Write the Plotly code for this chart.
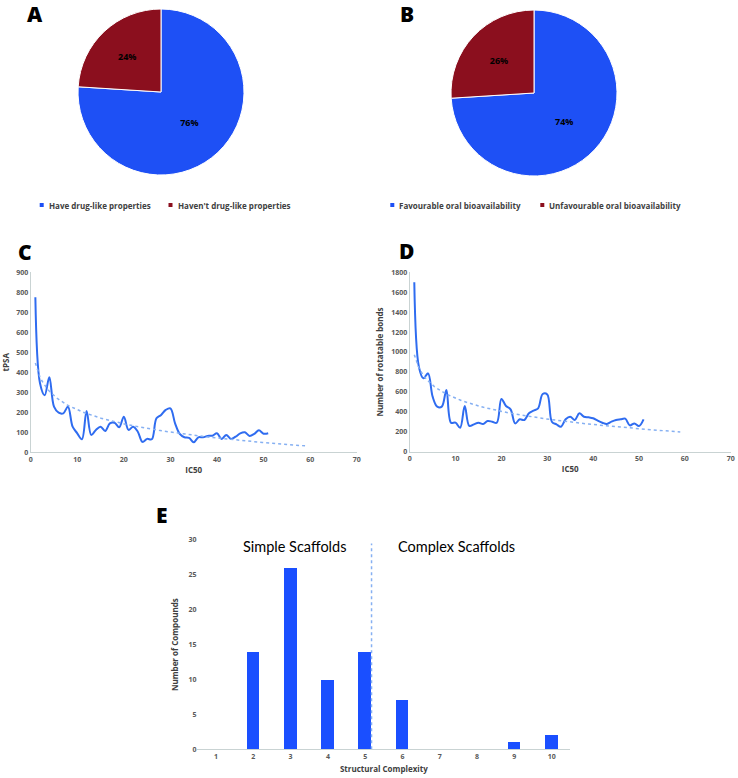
import numpy as np
import plotly.graph_objects as go

W, H = 738, 778

# ---------------- data ----------------
pie_a_labels = ["Have drug-like properties", "Haven't drug-like properties"]
pie_a_values = [76, 24]
pie_b_labels = ["Favourable oral bioavailability", "Unfavourable oral bioavailability"]
pie_b_values = [74, 26]

ic50 = list(range(1, 52))
tpsa = [775, 345, 285, 375, 228, 198, 195, 228, 128, 95,
        65, 207, 87, 112, 128, 107, 145, 148, 125, 178,
        112, 128, 103, 52, 67, 65, 170, 187, 212, 220,
        145, 92, 75, 72, 50, 75, 75, 82, 83, 95,
        67, 87, 67, 78, 95, 100, 82, 92, 110, 93, 95]
rot_bonds = [1700, 853, 736, 786, 552, 452, 452, 619, 291, 291,
             241, 458, 258, 274, 291, 278, 308, 301, 291, 530,
             458, 425, 284, 325, 318, 385, 411, 435, 579, 575,
             301, 274, 251, 325, 351, 318, 385, 351, 345, 335,
             311, 291, 278, 301, 318, 325, 331, 264, 284, 258, 325]
trend_x_end = 59

complexity = [1, 2, 3, 4, 5, 6, 7, 8, 9, 10]
n_compounds = [0, 14, 26, 10, 14, 7, 0, 0, 1, 2]
region_labels = ["Simple Scaffolds", "Complex Scaffolds"]

# ---------------- styling ----------------
BLUE = "#1E50F5"
RED = "#8B0F1E"
LINE = "#2F6CF0"
TREND = "#86B0F2"
AXIS = "#C9D3D3"
TICK = "#595959"
FONT = "Open Sans"


def px(x):
    return x / W


def py(y):
    return 1 - y / H


def log_trend(x, y, x_end):
    lx = np.log(np.asarray(x, float))
    a, b = np.polyfit(lx, np.asarray(y, float), 1)
    xs = np.linspace(1, x_end, 120)
    return xs, a * np.log(xs) + b


fig = go.Figure()

pie_text = dict(size=9, color="black", family=FONT, weight="bold")

# Pies
fig.add_trace(go.Pie(labels=pie_a_labels, values=pie_a_values, sort=False,
                     direction="clockwise", rotation=0,
                     marker=dict(colors=[BLUE, RED], line=dict(color="white", width=1)),
                     texttemplate="%{percent:.0%}", textposition="inside",
                     insidetextorientation="horizontal", textfont=pie_text,
                     domain=dict(x=[px(78), px(244)], y=[py(175), py(9)]),
                     showlegend=False))
fig.add_trace(go.Pie(labels=pie_b_labels, values=pie_b_values, sort=False,
                     direction="clockwise", rotation=0,
                     marker=dict(colors=[BLUE, RED], line=dict(color="white", width=1)),
                     texttemplate="%{percent:.0%}", textposition="inside",
                     insidetextorientation="horizontal", textfont=pie_text,
                     domain=dict(x=[px(451), px(617)], y=[py(176), py(10)]),
                     showlegend=False))

# Line C
fig.add_trace(go.Scatter(x=ic50, y=tpsa, mode="lines",
                         line=dict(color=LINE, width=2, shape="spline", smoothing=1),
                         xaxis="x", yaxis="y", showlegend=False))
tx, ty = log_trend(ic50, tpsa, trend_x_end)
fig.add_trace(go.Scatter(x=tx, y=ty, mode="lines",
                         line=dict(color=TREND, width=1.5, dash="dot"),
                         xaxis="x", yaxis="y", showlegend=False))

# Line D
fig.add_trace(go.Scatter(x=ic50, y=rot_bonds, mode="lines",
                         line=dict(color=LINE, width=2, shape="spline", smoothing=1),
                         xaxis="x2", yaxis="y2", showlegend=False))
tx2, ty2 = log_trend(ic50, rot_bonds, trend_x_end)
fig.add_trace(go.Scatter(x=tx2, y=ty2, mode="lines",
                         line=dict(color=TREND, width=1.5, dash="dot"),
                         xaxis="x2", yaxis="y2", showlegend=False))

# Bars E
fig.add_trace(go.Bar(x=complexity, y=n_compounds, marker=dict(color="#1A4FFF", line=dict(width=0)),
                     width=0.34, xaxis="x3", yaxis="y3", showlegend=False))

tickfont = dict(size=7, color=TICK, family=FONT, weight="bold")
titlefont = dict(size=8, color="#404040", family=FONT, weight="bold")

common_x = dict(showline=True, linecolor=AXIS, linewidth=1, showgrid=False, zeroline=False,
                ticks="", tickfont=tickfont, automargin=False)
common_y = dict(showline=True, linecolor=AXIS, linewidth=1, showgrid=False, zeroline=False,
                ticks="", tickfont=tickfont, automargin=False)

fig.update_layout(
    width=W, height=H, margin=dict(l=0, r=0, t=0, b=0, autoexpand=False),
    paper_bgcolor="white", plot_bgcolor="white",
    font=dict(family=FONT),
    bargap=0,
    xaxis=dict(domain=[px(30.7), px(356.7)], range=[0, 70], dtick=10, anchor="y",
               title=dict(text="IC50", font=titlefont, standoff=4), **common_x),
    yaxis=dict(domain=[py(452.3), py(272.3)], range=[0, 900], dtick=100, anchor="x",
               title=dict(text="tPSA", font=titlefont, standoff=6), **common_y),
    xaxis2=dict(domain=[px(409.7), px(730.7)], range=[0, 70], dtick=10, anchor="y2",
                title=dict(text="IC50", font=titlefont, standoff=4), **common_x),
    yaxis2=dict(domain=[py(451.7), py(272.3)], range=[0, 1800], dtick=200, anchor="x2",
                title=dict(text="Number of rotatable bonds", font=titlefont, standoff=6), **common_y),
    xaxis3=dict(domain=[px(197.4), px(570.3)], range=[0.5, 10.5], tickvals=complexity, anchor="y3",
                title=dict(text="Structural Complexity", font=titlefont, standoff=6), **common_x),
    yaxis3=dict(domain=[py(749.3), py(540)], range=[0, 30], dtick=5, anchor="x3",
                showline=False, showgrid=False, zeroline=False, ticks="", tickfont=tickfont,
                automargin=False,
                title=dict(text="Number of Compounds", font=titlefont, standoff=8)),
)

# divider in E
fig.add_shape(type="line", xref="x3", yref="y3", x0=5.17, x1=5.17, y0=0, y1=29.5,
              line=dict(color=TREND, width=1.5, dash="dot"))

ann = []
# panel letters
for letter, x, y in [("A", 35, 14), ("B", 407, 14), ("C", 25, 252), ("D", 406, 251), ("E", 162, 515)]:
    ann.append(dict(text=letter, x=px(x), y=py(y), xref="paper", yref="paper", showarrow=False,
                    font=dict(size=21, color="black", family=FONT, weight=800),
                    xanchor="center", yanchor="middle"))

# region labels in E
for lab, x in zip(region_labels, [294, 456]):
    ann.append(dict(text=lab, x=px(x), y=py(546), xref="paper", yref="paper", showarrow=False,
                    font=dict(size=14.5, color="black", family="Lato"),
                    xanchor="center", yanchor="middle"))

# manual legends for pies
legfont = dict(size=8, color="#404040", family=FONT, weight="bold")
legend_items = [
    (pie_a_labels[0], BLUE, 41.7), (pie_a_labels[1], RED, 170.5),
    (pie_b_labels[0], BLUE, 392.3), (pie_b_labels[1], RED, 542.3),
]
for lab, col, x in legend_items:
    fig.add_shape(type="rect", xref="paper", yref="paper",
                  x0=px(x - 2), x1=px(x + 2), y0=py(207), y1=py(203),
                  fillcolor=col, line=dict(width=0))
    ann.append(dict(text=lab, x=px(x + 5), y=py(205), xref="paper", yref="paper", showarrow=False,
                    font=legfont, xanchor="left", yanchor="middle"))

fig.update_layout(annotations=ann)
fig.write_html("out.html", config={"displayModeBar": False},
               post_script="document.body.style.margin='0';document.body.style.overflow='hidden';")
